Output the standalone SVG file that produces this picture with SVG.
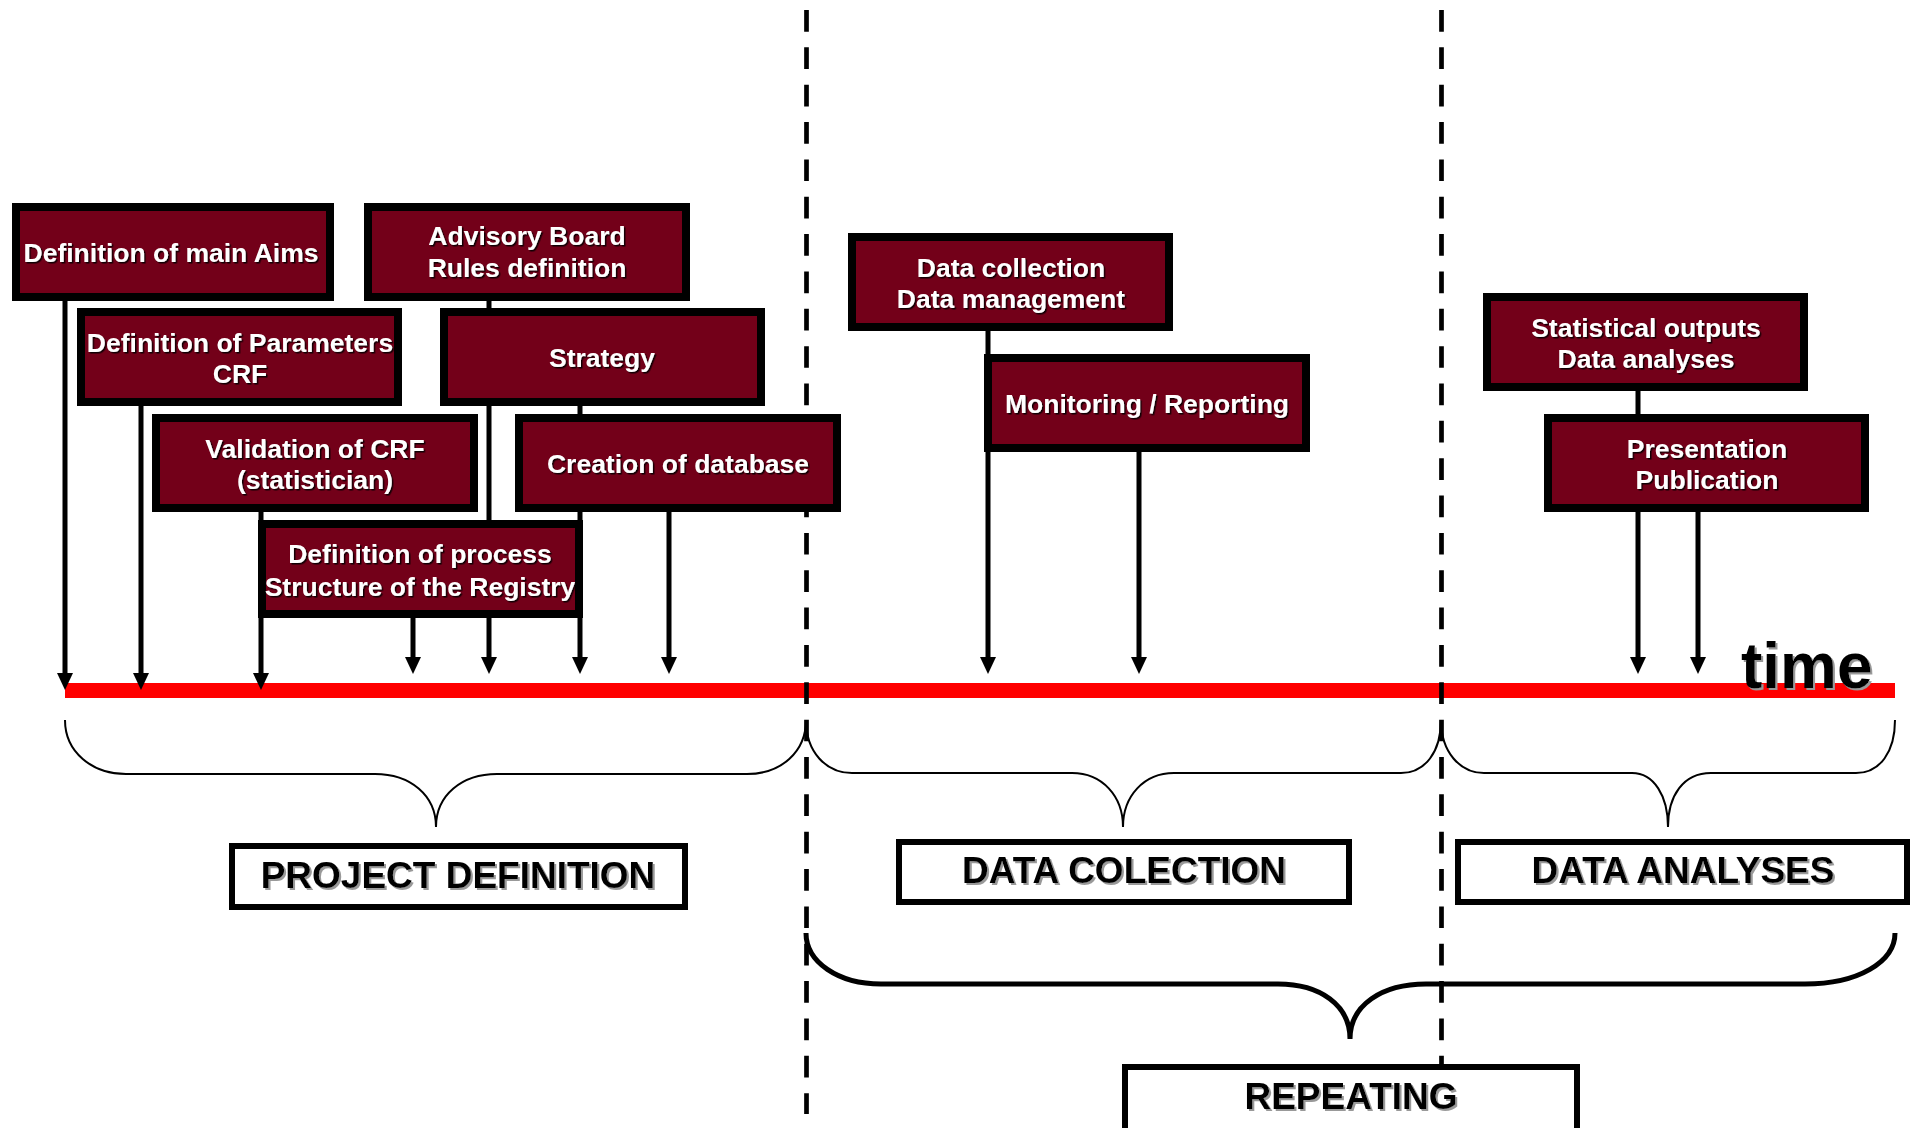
<svg xmlns="http://www.w3.org/2000/svg" width="1912" height="1128" viewBox="0 0 1912 1128">
<defs>
<style>
.node rect{fill:#730019;stroke:#000;stroke-width:8}
.node text{fill:#fff;font-family:"Liberation Sans",Arial,sans-serif;font-weight:bold;font-size:26.5px;text-anchor:middle;filter:url(#ds)}
.lab rect{fill:#fff;stroke:#000;stroke-width:6}
.lab text{fill:#000;font-family:"Liberation Sans",Arial,sans-serif;font-weight:bold;font-size:37px;text-anchor:middle;filter:url(#gs)}
.con line{stroke:#000;stroke-width:5;marker-end:url(#ah)}
.brace{fill:none;stroke:#000;stroke-width:2}
.dash{stroke:#000;stroke-width:4.7;stroke-dasharray:21.7 15.65}
</style>
<filter id="ds" x="-5%" y="-20%" width="110%" height="140%"><feDropShadow dx="1.5" dy="1.5" stdDeviation="0.4" flood-color="#000" flood-opacity="0.85"/></filter>
<filter id="gs" x="-5%" y="-20%" width="110%" height="140%"><feDropShadow dx="2" dy="2" stdDeviation="0.3" flood-color="#999" flood-opacity="1"/></filter>
<marker id="ah" markerUnits="userSpaceOnUse" markerWidth="17" markerHeight="16" viewBox="0 0 17 16" refX="0" refY="8" orient="auto"><path d="M0,0 L17,8 L0,16 z" fill="#000"/></marker>
</defs>
<rect width="1912" height="1128" fill="#fff"/>
<rect id="timeline" x="65" y="683" width="1830" height="15" fill="#FF0000"/>
<g id="dividers">
<line class="dash" x1="806.5" y1="10" x2="806.5" y2="1114"/>
<line class="dash" x1="1441.5" y1="10" x2="1441.5" y2="1066"/>
</g>
<text x="1741" y="688" font-family="'Liberation Sans',Arial,sans-serif" font-weight="bold" font-size="64" fill="#000" filter="url(#gs)">time</text>
<g id="connectors" class="con">
<line x1="65" y1="301" x2="65" y2="673"/>
<line x1="141" y1="406" x2="141" y2="673"/>
<line x1="261" y1="512" x2="261" y2="673"/>
<line x1="413" y1="618" x2="413" y2="657"/>
<line x1="489" y1="301" x2="489" y2="657"/>
<line x1="580" y1="406" x2="580" y2="657"/>
<line x1="669" y1="512" x2="669" y2="657"/>
<line x1="988" y1="331" x2="988" y2="657"/>
<line x1="1139" y1="452" x2="1139" y2="657"/>
<line x1="1638" y1="391" x2="1638" y2="657"/>
<line x1="1698" y1="512" x2="1698" y2="657"/>
</g>
<g id="n-aims" class="node"><rect x="16" y="207" width="314" height="90"/><text x="171" y="262">Definition of main Aims</text></g>
<g id="n-advisory" class="node"><rect x="368" y="207" width="318" height="90"/><text x="527" y="245">Advisory Board</text><text x="527" y="277">Rules definition</text></g>
<g id="n-params" class="node"><rect x="81" y="312" width="317" height="90"/><text x="240" y="352">Definition of Parameters</text><text x="240" y="383">CRF</text></g>
<g id="n-strategy" class="node"><rect x="444" y="312" width="317" height="90"/><text x="602" y="367">Strategy</text></g>
<g id="n-validation" class="node"><rect x="156" y="418" width="318" height="90"/><text x="315" y="458">Validation of CRF</text><text x="315" y="489">(statistician)</text></g>
<g id="n-database" class="node"><rect x="519" y="418" width="318" height="90"/><text x="678" y="473">Creation of database</text></g>
<g id="n-process" class="node"><rect x="262" y="524" width="317" height="90"/><text x="420" y="563">Definition of process</text><text x="420" y="596">Structure of the Registry</text></g>
<g id="n-collection" class="node"><rect x="852" y="237" width="317" height="90"/><text x="1011" y="277">Data collection</text><text x="1011" y="308">Data management</text></g>
<g id="n-monitoring" class="node"><rect x="988" y="358" width="318" height="90"/><text x="1147" y="413">Monitoring / Reporting</text></g>
<g id="n-statistical" class="node"><rect x="1487" y="297" width="317" height="90"/><text x="1646" y="337">Statistical outputs</text><text x="1646" y="368">Data analyses</text></g>
<g id="n-presentation" class="node"><rect x="1548" y="418" width="317" height="90"/><text x="1707" y="458">Presentation</text><text x="1707" y="489">Publication</text></g>
<g id="braces">
<path class="brace" d="M65,720 C65,752 92,774 126,774 L375,774 C410,774 436,795 436,827 C436,795 462,774 497,774 L747,774 C781,774 806,752 806,720"/>
<path class="brace" d="M806,720 C806,752 826,773 852,773 L1072,773 C1102,773 1123,796 1123,827 C1123,796 1144,773 1174,773 L1401,773 C1425,773 1441,752 1441,720"/>
<path class="brace" d="M1441,720 C1441,752 1460,773 1484,773 L1632,773 C1654,773 1668,796 1668,827 C1668,796 1683,773 1711,773 L1856,773 C1880,773 1895,752 1895,720"/>
<path class="brace" style="stroke-width:5" d="M806,933 C806,962 838,984 881,984 L1278,984 C1320,984 1350,1005 1350,1039 C1350,1005 1382,984 1426,984 L1805,984 C1858,984 1895,962 1895,933"/>
</g>
<g id="l-project" class="lab"><rect x="232" y="846" width="453" height="61"/><text x="458" y="888">PROJECT DEFINITION</text></g>
<g id="l-collection" class="lab"><rect x="899" y="842" width="450" height="60"/><text x="1124" y="883">DATA COLECTION</text></g>
<g id="l-analyses" class="lab"><rect x="1458" y="842" width="449" height="60"/><text x="1683" y="883">DATA ANALYSES</text></g>
<g id="l-repeating" class="lab"><rect x="1125" y="1067" width="452" height="80"/><text x="1351" y="1109">REPEATING</text></g>
</svg>
